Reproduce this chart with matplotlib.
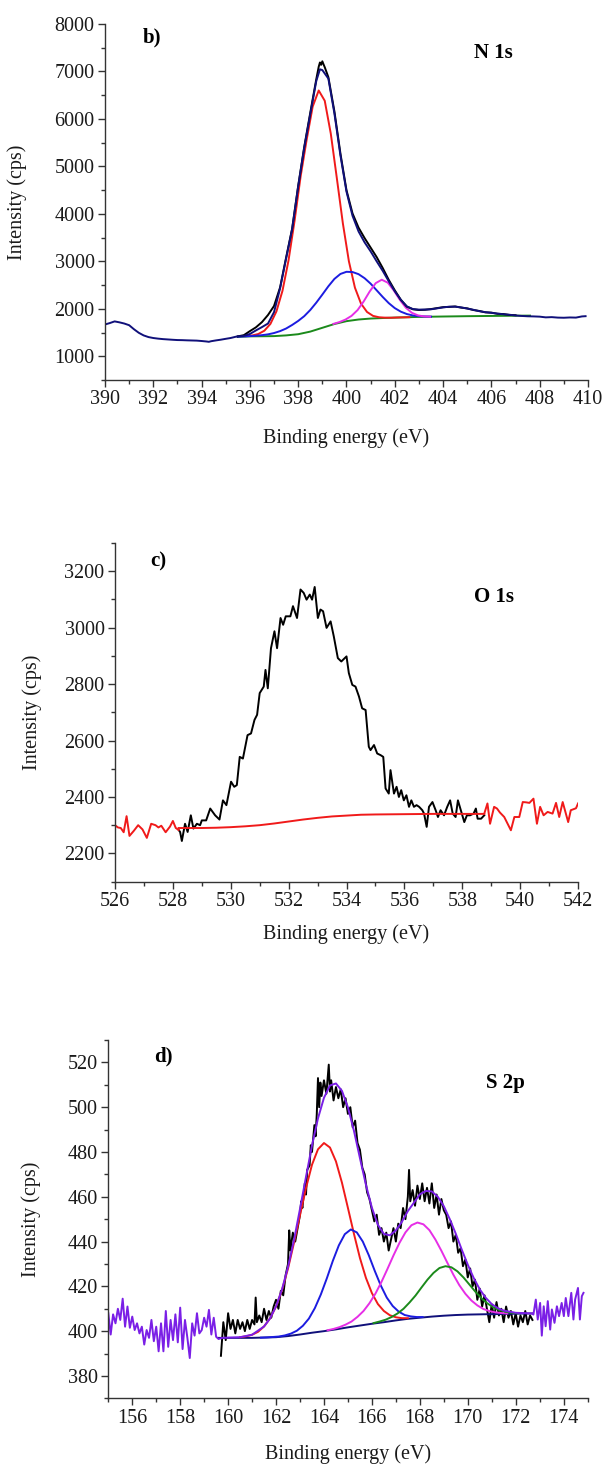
import matplotlib
matplotlib.use("Agg")
import matplotlib.pyplot as plt
from matplotlib.ticker import MultipleLocator

plt.rcParams['font.family'] = ['Liberation Serif', 'DejaVu Serif']

# ---------------- N 1s (panel b) ----------------
n_navy_x = [390.0, 390.2, 390.4, 390.6, 390.8, 391.0, 391.2, 391.4, 391.6, 391.8, 392.0, 392.2, 392.4,
            392.6, 392.8, 393.0, 393.2, 393.4, 393.6, 393.8, 394.0, 394.2, 394.3, 394.4, 394.6, 394.8,
            395.0, 395.2, 395.4, 395.5, 395.75, 396.0, 396.25, 396.5, 396.75, 397.0, 397.25, 397.5,
            397.75, 398.0, 398.25, 398.5, 398.75, 398.9, 399.0, 399.25, 399.5, 399.75, 400.0, 400.25,
            400.5, 400.75, 401.0, 401.25, 401.5, 401.75, 402.0, 402.25, 402.5, 402.75, 403.0, 403.25,
            403.5, 403.75, 404.0, 404.25, 404.5, 404.75, 405.0, 405.25, 405.5, 405.75, 406.0, 406.25,
            406.5, 406.75, 407.0, 407.25, 407.5, 407.75, 408.0, 408.25, 408.5, 408.75, 409.0, 409.25,
            409.5, 409.75, 409.9]
n_navy_y = [1670, 1700, 1735, 1715, 1690, 1655, 1570, 1495, 1440, 1405, 1385, 1372, 1362,
            1355, 1348, 1342, 1340, 1336, 1333, 1330, 1322, 1312, 1305, 1318, 1335, 1350,
            1368, 1385, 1410, 1420, 1430, 1470, 1545, 1615, 1690, 1930, 2430, 3060,
            3680, 4580, 5390, 6100, 6800, 7046, 7030, 6850, 6116, 5230, 4469, 3960,
            3630, 3400, 3210, 3000, 2800, 2580, 2370, 2190, 2050, 1995, 1983, 1985,
            1990, 2010, 2030, 2045, 2045, 2030, 2005, 1980, 1950, 1930, 1915, 1900,
            1885, 1875, 1860, 1850, 1843, 1840, 1835, 1820, 1825, 1815, 1812, 1818,
            1815, 1840, 1845]

n_black_x = [395.5, 395.75, 396.0, 396.25, 396.5, 396.75, 397.0, 397.25, 397.5, 397.75, 398.0, 398.25,
             398.5, 398.75, 398.85, 398.9, 398.95, 399.0, 399.05, 399.1, 399.25, 399.5, 399.75, 400.0,
             400.25, 400.5, 400.75, 401.0, 401.25, 401.5, 401.75, 402.0, 402.25, 402.5, 402.75, 403.0,
             403.25, 403.5, 403.75, 404.0, 404.25, 404.5, 404.75, 405.0, 405.25, 405.5, 405.75, 406.0,
             406.25, 406.5, 406.75, 407.0]
n_black_y = [1420, 1445, 1530, 1610, 1720, 1870, 2060, 2450, 3080, 3690, 4590, 5410,
             6130, 6840, 7100, 7190, 7140, 7215, 7150, 7090, 6880, 6160, 5270, 4500,
             4010, 3710, 3490, 3290, 3090, 2860, 2610, 2390, 2190, 2045, 1990, 1975,
             1980, 1995, 2015, 2035, 2040, 2050, 2025, 2010, 1975, 1955, 1925, 1920,
             1895, 1890, 1870, 1865]

n_red_x = [395.85, 396.1, 396.35, 396.6, 396.85, 397.1, 397.35, 397.6, 397.85, 398.1, 398.35, 398.6,
           398.85, 399.1, 399.35, 399.6, 399.85, 400.1, 400.35, 400.6, 400.85, 401.1, 401.35, 401.6,
           401.85, 402.1, 402.35, 402.6]
n_red_y = [1426, 1439, 1470, 1539, 1682, 1947, 2380, 3020, 3854, 4786, 5560, 6260,
           6600, 6383, 5692, 4754, 3801, 3000, 2445, 2111, 1934, 1851, 1822, 1814,
           1812, 1817, 1820, 1823]

n_blue_x = [395.5, 395.75, 396.0, 396.25, 396.5, 396.75, 397.0, 397.25, 397.5, 397.75, 398.0, 398.25,
            398.5, 398.75, 399.0, 399.25, 399.5, 399.75, 400.0, 400.25, 400.5, 400.75, 401.0, 401.25,
            401.5, 401.75, 402.0, 402.25, 402.5, 402.75, 403.0, 403.25, 403.5]
n_blue_y = [1412, 1418, 1425, 1433, 1445, 1462, 1490, 1530, 1585, 1660, 1745, 1845,
            1975, 2130, 2300, 2475, 2630, 2735, 2780, 2775, 2730, 2645, 2530, 2390,
            2250, 2120, 2015, 1940, 1890, 1860, 1845, 1838, 1835]

n_mag_x = [399.46, 399.71, 399.96, 400.21, 400.46, 400.71, 400.96, 401.21, 401.46, 401.71, 401.96,
           402.21, 402.46, 402.71, 402.96, 403.21, 403.46]
n_mag_y = [1683, 1721, 1774, 1852, 1974, 2154, 2365, 2541, 2613, 2551, 2386,
           2188, 2022, 1915, 1862, 1840, 1834]

n_green_x = [395.5, 396.0, 396.5, 397.0, 397.5, 398.0, 398.5, 399.0, 399.5, 400.0, 400.5, 401.0,
             401.5, 402.0, 403.0, 404.0, 405.0, 406.0, 407.0, 407.6]
n_green_y = [1410, 1420, 1422, 1425, 1440, 1465, 1520, 1600, 1680, 1740, 1775, 1795,
             1806, 1815, 1830, 1838, 1845, 1850, 1855, 1857]

# ---------------- O 1s (panel c) ----------------
o_red_left_x = [526.0, 526.1, 526.2, 526.3, 526.4, 526.5, 526.65, 526.8, 526.95, 527.1, 527.25, 527.4,
                527.5, 527.6, 527.75, 527.9, 528.0, 528.1, 528.2]
o_red_left_y = [2300, 2292, 2290, 2275, 2332, 2262, 2280, 2300, 2285, 2255, 2305, 2300,
                2292, 2298, 2275, 2295, 2315, 2290, 2283]

o_black_x = [528.2, 528.25, 528.31, 528.42, 528.51, 528.62, 528.71, 528.83, 528.94, 529.0, 529.15,
             529.29, 529.46, 529.61, 529.73, 529.85, 530.01, 530.12, 530.21, 530.31, 530.42, 530.58,
             530.7, 530.82, 530.91, 531.0, 531.14, 531.2, 531.28, 531.39, 531.51, 531.6, 531.72,
             531.81, 531.9, 532.06, 532.15, 532.29, 532.41, 532.52, 532.62, 532.73, 532.81, 532.9,
             533.01, 533.1, 533.19, 533.31, 533.45, 533.56, 533.7, 533.82, 534.0, 534.08, 534.2,
             534.31, 534.43, 534.54, 534.66, 534.77, 534.83, 534.95, 535.06, 535.18, 535.27, 535.35,
             535.46, 535.52, 535.64, 535.73, 535.81, 535.89, 535.98, 536.07, 536.16, 536.24, 536.33,
             536.42, 536.51, 536.62, 536.68, 536.77, 536.85, 536.97, 537.08, 537.16, 537.25, 537.37,
             537.48, 537.58, 537.67, 537.77, 537.85, 537.95, 538.07, 538.16, 538.27, 538.39, 538.47,
             538.53, 538.65, 538.76]
o_black_y = [2283, 2276, 2244, 2305, 2276, 2335, 2288, 2305, 2300, 2317, 2317,
             2359, 2335, 2320, 2388, 2371, 2454, 2436, 2442, 2542, 2536, 2619,
             2625, 2673, 2691, 2768, 2791, 2850, 2785, 2927, 2987, 2927, 3034,
             3010, 3040, 3040, 3076, 3034, 3135, 3123, 3099, 3117, 3099, 3144,
             3034, 3064, 3058, 2999, 3022, 2969, 2892, 2880, 2898, 2839, 2797,
             2791, 2756, 2714, 2708, 2578, 2566, 2584, 2554, 2548, 2542, 2430,
             2412, 2495, 2412, 2436, 2400, 2424, 2388, 2406, 2365, 2388, 2365,
             2371, 2365, 2353, 2341, 2294, 2365, 2382, 2353, 2329, 2353, 2335,
             2365, 2388, 2341, 2329, 2388, 2353, 2311, 2335, 2335, 2341, 2359,
             2323, 2323, 2335]

o_base_x = [528.2, 529.0, 529.5, 530.0, 530.5, 531.0, 531.5, 532.0, 532.5, 533.0, 533.5, 534.0,
            534.5, 535.0, 536.0, 537.0, 538.0, 538.76]
o_base_y = [2290, 2290, 2291, 2293, 2296, 2300, 2306, 2313, 2320, 2326, 2331, 2334,
            2337, 2338, 2339, 2340, 2340, 2340]

o_red_right_x = [538.76, 538.87, 538.96, 539.1, 539.2, 539.3, 539.45, 539.68, 539.8, 539.97, 540.09,
                 540.2, 540.32, 540.46, 540.58, 540.69, 540.81, 540.95, 541.12, 541.24, 541.35,
                 541.47, 541.66, 541.75, 541.93, 542.0]
o_red_right_y = [2341, 2377, 2305, 2365, 2359, 2345, 2329, 2282, 2329, 2329, 2382,
                 2381, 2379, 2394, 2305, 2365, 2335, 2347, 2341, 2379, 2329,
                 2382, 2311, 2353, 2360, 2377]

# ---------------- S 2p (panel d) ----------------
s_purple_x = [155.0, 155.1, 155.2, 155.3, 155.4, 155.5, 155.6, 155.7, 155.8, 155.9, 156.0, 156.1,
              156.2, 156.3, 156.4, 156.5, 156.6, 156.7, 156.8, 156.9, 157.0, 157.1, 157.2, 157.3,
              157.4, 157.5, 157.6, 157.7, 157.8, 157.9, 158.0, 158.1, 158.2, 158.3, 158.4, 158.5,
              158.6, 158.7, 158.8, 158.9, 159.0, 159.1, 159.2, 159.3, 159.4, 159.5, 159.6,
              159.75, 160.0, 160.5, 161.0, 161.5, 161.75, 162.0, 162.25, 162.5, 162.75, 163.0,
              163.25, 163.5, 163.75, 164.0, 164.25, 164.5, 164.75, 165.0, 165.25, 165.5, 165.75,
              166.0, 166.25, 166.5, 166.75, 167.0, 167.25, 167.5, 167.75, 168.0, 168.25, 168.5,
              168.75, 169.0, 169.25, 169.5, 169.75, 170.0, 170.25, 170.5, 170.75, 171.0, 171.25,
              171.5, 172.0, 172.5, 172.7,
              172.74, 172.84, 172.92, 173.02, 173.09, 173.17, 173.25, 173.34, 173.44, 173.51,
              173.62, 173.72, 173.81, 173.92, 174.01, 174.09, 174.2, 174.32, 174.41, 174.48,
              174.6, 174.68, 174.76, 174.83]
s_purple_y = [408, 398.5, 407.5, 403.5, 410, 405, 414.5, 402, 411, 401.5, 406.5, 400.5,
              403.5, 399, 402, 394, 400.5, 397, 405, 395.5, 402, 391, 403.5, 391,
              409, 393, 405, 396, 407.5, 395, 410.5, 392, 405, 397, 388, 403.5,
              398, 408, 399, 400.5, 406, 402, 409.5, 398.5, 406, 397.5, 396.5,
              397.0, 397.1, 397.3, 398.4, 402.1, 405.7, 411.1, 418.7, 428.7, 440.8, 454.6,
              468.9, 482.9, 495.0, 504.2, 509.7, 510.6, 507.3, 499.9, 489.5, 477.3, 465.4,
              455.1, 447.5, 443.4, 442.8, 445.0, 448.8, 453.6, 457.3, 461.1, 462.6, 462.4,
              460.0, 455.8, 450.0, 443.5, 436.4, 429.7, 423.7, 418.7, 414.9, 412.1, 410.3,
              409.2, 408.2, 408.0, 407.9,
              407.4, 414.1, 405.2, 412.6, 398.0, 411.1, 402.2, 413.4, 400.7, 409.7,
              403.7, 411.1, 406.7, 412.6, 406.7, 414.8, 406.7, 417.1, 405.2, 414.1,
              419.3, 405.2, 415.6, 417.1]

s_black_x = [159.7, 159.8, 159.9, 160.0, 160.1, 160.2, 160.3, 160.4, 160.5, 160.6, 160.7, 160.8,
             160.9, 161.0, 161.1, 161.15, 161.2, 161.3, 161.4, 161.5, 161.6, 161.7, 161.8, 161.9,
             162.0, 162.1, 162.2, 162.3, 162.4, 162.5, 162.55, 162.6, 162.7, 162.8, 162.9, 163.0,
             163.05, 163.1, 163.2, 163.25, 163.3, 163.4, 163.45, 163.5, 163.6, 163.65, 163.7,
             163.75, 163.8, 163.85, 163.9, 164.0,
             164.1, 164.2, 164.25, 164.3, 164.4, 164.5, 164.6, 164.7, 164.8, 164.9, 165.0, 165.1,
             165.2, 165.3, 165.4, 165.5, 165.6, 165.7, 165.8, 165.9, 166.0, 166.1, 166.2, 166.3,
             166.4, 166.5, 166.6, 166.7, 166.8, 166.9, 167.0, 167.1, 167.2, 167.3, 167.4, 167.5,
             167.55, 167.6, 167.7, 167.8, 167.9, 168.0, 168.1, 168.2, 168.3, 168.4, 168.5, 168.6,
             168.7, 168.8, 168.9, 169.0, 169.1, 169.2, 169.3, 169.4, 169.5, 169.6, 169.7, 169.8,
             169.9, 170.0, 170.1, 170.2, 170.3, 170.4, 170.5, 170.6, 170.7, 170.8, 170.9, 171.0,
             171.1, 171.2, 171.3, 171.4, 171.5, 171.6, 171.7, 171.8, 171.9, 172.0, 172.1, 172.2,
             172.3, 172.4, 172.5, 172.6, 172.7]
s_black_y = [389, 404, 396, 408, 401, 405, 399, 405, 401, 404, 400, 405,
             401, 405, 403, 415, 404, 407, 404, 410, 405, 409, 406, 411,
             414, 410, 418, 416, 425, 430, 445, 436, 444, 440, 446, 452,
             458, 455, 466, 461, 472, 474, 483, 480, 492, 487, 497,
             513, 500, 511, 505, 512,
             506, 519, 507, 512, 503, 509, 504, 508, 500, 504, 497, 500,
             491, 494, 484, 481, 473, 470, 462, 459, 454, 449, 452, 443,
             446, 440, 444, 436, 441, 446, 440, 448, 446, 455, 450, 460,
             472, 458, 463, 456, 465, 459, 466, 458, 464, 457, 466, 455,
             461, 452, 459, 454, 452, 446, 449, 440, 443, 435, 437, 429,
             432, 424, 428, 420, 423, 414, 419, 411, 416, 410, 404, 412,
             406, 413, 407, 410, 404, 411, 406, 409, 403, 408, 402, 407,
             404, 409, 403, 407, 405]

s_base_x = [159.6, 160.0, 161.0, 162.0, 162.5, 163.0, 163.5, 164.0, 164.5, 165.0, 165.5, 166.0,
            166.5, 167.0, 167.5, 168.0, 168.5, 169.0, 169.5, 170.0, 171.0, 172.0, 172.7]
s_base_y = [397.0, 397.0, 397.0, 397.3, 397.8, 398.5, 399.3, 400.0, 400.8, 401.7, 402.5, 403.3,
            404.0, 404.8, 405.5, 406.0, 406.5, 406.9, 407.2, 407.4, 407.6, 407.8, 407.9]

s_red_x = [160.5, 160.75, 161.0, 161.25, 161.5, 161.75, 162.0, 162.25, 162.5, 162.75, 163.0, 163.25,
           163.5, 163.75, 164.0, 164.25, 164.5, 164.75, 165.0, 165.25, 165.5, 165.75, 166.0, 166.25,
           166.5, 166.75, 167.0, 167.25, 167.5]
s_red_y = [397.3, 397.7, 398.4, 399.7, 402.1, 405.7, 411.0, 418.4, 428.0, 439.5, 451.8, 463.9,
           474.3, 481.2, 484.0, 482.0, 475.8, 466.3, 455.0, 443.5, 432.7, 423.8, 417.0, 412.1,
           409.0, 407.1, 406.2, 405.8, 405.8]

s_blue_x = [161.37, 161.62, 161.87, 162.12, 162.37, 162.62, 162.87, 163.12, 163.37, 163.62, 163.87,
            164.12, 164.37, 164.62, 164.87, 165.12, 165.37, 165.62, 165.87, 166.12, 166.37, 166.62,
            166.87, 167.12, 167.37, 167.62, 167.87, 168.12]
s_blue_y = [397.1, 397.2, 397.4, 397.6, 398.1, 398.9, 400.2, 402.4, 405.6, 410.3, 416.4,
            423.6, 431.4, 438.3, 443.3, 445.4, 444.1, 440.0, 433.9, 426.9, 420.4, 415.0,
            411.2, 408.7, 407.2, 406.6, 406.3, 406.3]

s_mag_x = [164.15, 164.4, 164.65, 164.9, 165.15, 165.4, 165.65, 165.9, 166.15, 166.4, 166.65, 166.9,
           167.15, 167.4, 167.65, 167.9, 168.15, 168.4, 168.65, 168.9, 169.15, 169.4, 169.65, 169.9,
           170.15, 170.4, 170.65, 170.9, 171.15, 171.4, 171.65]
s_mag_y = [400.4, 401.0, 401.8, 402.9, 404.3, 406.4, 409.0, 412.5, 416.8, 422.0, 427.8, 433.8,
           439.4, 444.1, 447.3, 448.5, 447.7, 445.1, 440.9, 435.9, 430.5, 425.2, 420.5, 416.7,
           413.7, 411.5, 409.9, 409.0, 408.4, 408.1, 407.9]

s_green_x = [166.07, 166.32, 166.57, 166.82, 167.07, 167.32, 167.57, 167.82, 168.07, 168.32, 168.57,
             168.82, 169.07, 169.32, 169.57, 169.82, 170.07, 170.32, 170.57, 170.82, 171.07, 171.32,
             171.57, 171.82, 172.07]
s_green_y = [403.6, 404.3, 405.1, 406.3, 407.9, 410.0, 412.8, 415.9, 419.5, 423.0, 426.0,
             428.2, 429.0, 428.5, 426.7, 424.0, 420.8, 417.6, 414.7, 412.4, 410.6, 409.4,
             408.7, 408.2, 408.0]

RED = '#f01a1a'
BLUE = '#1c1ce0'
MAG = '#e62ee6'
GREEN = '#1b8a1b'
NAVY = '#10107a'
PURPLE = '#7a1fe6'
LW = 1.4

fig = plt.figure(figsize=(6.04, 14.65), dpi=100)


def style(ax, xlim, ylim, xmaj, ymaj, xmin, ymin):
    ax.set_xlim(*xlim)
    ax.set_ylim(*ylim)
    ax.xaxis.set_major_locator(MultipleLocator(xmaj))
    ax.yaxis.set_major_locator(MultipleLocator(ymaj))
    ax.xaxis.set_minor_locator(MultipleLocator(xmin))
    ax.yaxis.set_minor_locator(MultipleLocator(ymin))
    for s in ['top', 'right']:
        ax.spines[s].set_visible(False)
    for s in ['left', 'bottom']:
        ax.spines[s].set_color('#333333')
        ax.spines[s].set_linewidth(1.0)
    ax.tick_params(which='major', direction='out', length=5, width=1.0, colors='#333333',
                   labelsize=14.5, labelcolor='#1a1a1a', pad=2.5)
    ax.tick_params(which='minor', direction='out', length=3, width=1.0, colors='#333333')
    ax.set_xlabel('Binding energy (eV)', fontsize=14.5, color='#1a1a1a')
    ax.set_ylabel('Intensity (cps)', fontsize=14.5, color='#1a1a1a')


# panel b
ax1 = fig.add_axes([0.1738, 0.7406, 0.7997, 0.2430])
ax1.plot(n_green_x, n_green_y, color=GREEN, lw=LW)
ax1.plot(n_red_x, n_red_y, color=RED, lw=LW)
ax1.plot(n_blue_x, n_blue_y, color=BLUE, lw=LW)
ax1.plot(n_mag_x, n_mag_y, color=MAG, lw=LW)
ax1.plot(n_black_x, n_black_y, color='black', lw=LW)
ax1.plot(n_navy_x, n_navy_y, color=NAVY, lw=LW)
style(ax1, (390, 410), (500, 8000), 2, 1000, 1, 500)
ax1.set_yticks(range(1000, 8001, 1000))
ax1.text(0.079, 0.961, 'b)', transform=ax1.transAxes, fontsize=15, fontweight='bold', va='center')
ax1.text(0.764, 0.919, 'N 1s', transform=ax1.transAxes, fontsize=15, fontweight='bold', va='center')
ax1.yaxis.set_label_coords(-0.161, 0.5)
ax1.xaxis.set_label_coords(0.5, -0.135)

# panel c
ax2 = fig.add_axes([0.1904, 0.3982, 0.7666, 0.2312])
ax2.plot(o_black_x, o_black_y, color='black', lw=LW)
ax2.plot(o_base_x, o_base_y, color=RED, lw=LW)
ax2.plot(o_red_left_x, o_red_left_y, color=RED, lw=LW)
ax2.plot(o_red_right_x, o_red_right_y, color=RED, lw=LW)
style(ax2, (526, 542), (2100, 3300), 2, 200, 1, 100)
ax2.set_yticks(range(2200, 3201, 200))
ax2.text(0.076, 0.944, 'c)', transform=ax2.transAxes, fontsize=15, fontweight='bold', va='center')
ax2.text(0.775, 0.841, 'O 1s', transform=ax2.transAxes, fontsize=15, fontweight='bold', va='center')
ax2.yaxis.set_label_coords(-0.157, 0.5)
ax2.xaxis.set_label_coords(0.5, -0.125)

# panel d
ax3 = fig.add_axes([0.1793, 0.0455, 0.7935, 0.2446])
ax3.plot(s_black_x, s_black_y, color='black', lw=LW)
ax3.plot(s_base_x, s_base_y, color=NAVY, lw=LW)
ax3.plot(s_red_x, s_red_y, color=RED, lw=LW)
ax3.plot(s_blue_x, s_blue_y, color=BLUE, lw=LW)
ax3.plot(s_mag_x, s_mag_y, color=MAG, lw=LW)
ax3.plot(s_green_x, s_green_y, color=GREEN, lw=LW)
ax3.plot(s_purple_x, s_purple_y, color=PURPLE, lw=LW)
style(ax3, (155, 175), (370, 530), 2, 20, 1, 10)
ax3.set_xticks(range(156, 175, 2))
ax3.set_yticks(range(380, 521, 20))
ax3.text(0.095, 0.953, 'd)', transform=ax3.transAxes, fontsize=15, fontweight='bold', va='center')
ax3.text(0.788, 0.880, 'S 2p', transform=ax3.transAxes, fontsize=15, fontweight='bold', va='center')
ax3.yaxis.set_label_coords(-0.141, 0.5)
ax3.xaxis.set_label_coords(0.5, -0.128)

fig.savefig('out.png', dpi=100)
